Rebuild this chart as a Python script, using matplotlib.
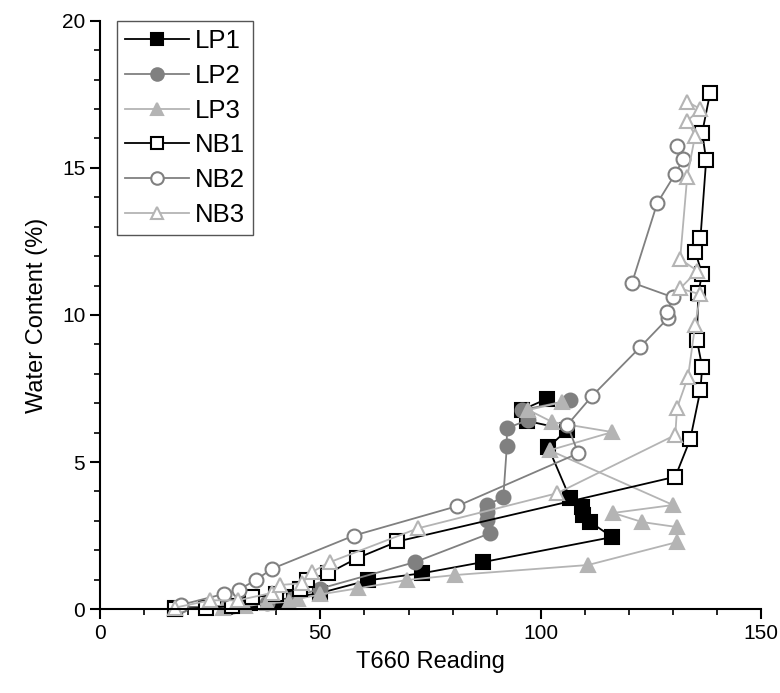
import matplotlib
matplotlib.use("Agg")
import matplotlib.pyplot as plt
from matplotlib.ticker import MultipleLocator

plt.rcParams['font.family'] = ['Liberation Sans', 'DejaVu Sans']

# ---- data (T660 reading, water content %) ----
lp1_x = [17, 29, 34, 40, 44, 50, 60.8, 73.1, 86.9, 116.2, 111.2, 109.6, 109.4, 106.6, 101.7, 106, 96.8, 95.7, 101.4]
lp1_y = [0.05, 0.1, 0.2, 0.3, 0.4, 0.55, 0.98, 1.22, 1.6, 2.45, 2.96, 3.2, 3.47, 3.78, 5.5, 6.1, 6.4, 6.77, 7.15]

lp2_x = [17, 30, 38, 44, 50, 71.5, 88.5, 87.8, 87.8, 87.8, 91.5, 92.3, 92.3, 97.1, 95.8, 106.6]
lp2_y = [0.05, 0.1, 0.2, 0.4, 0.7, 1.6, 2.58, 3.03, 3.3, 3.54, 3.81, 5.54, 6.15, 6.43, 6.77, 7.1]

lp3_x = [17, 28, 33, 38, 43, 45, 50, 58.6, 69.6, 80.6, 110.7, 130.9, 130.9, 123, 116.4, 130, 102, 116.2, 102.6, 97.2, 104.8]
lp3_y = [0.0, 0.05, 0.1, 0.2, 0.25, 0.35, 0.5, 0.71, 0.99, 1.16, 1.5, 2.28, 2.79, 2.96, 3.27, 3.54, 5.4, 6.02, 6.36, 6.77, 7.04]

nb1_x = [17, 24, 30, 34.5, 40, 45.5, 47, 51.8, 58.3, 67.5, 130.5, 133.9, 136.2, 136.6, 135.4, 135.7, 136.6, 135, 136.2, 137.5, 136.6, 138.4]
nb1_y = [0.0, 0.05, 0.1, 0.4, 0.5, 0.7, 1.0, 1.22, 1.73, 2.3, 4.5, 5.78, 7.45, 8.23, 9.15, 10.75, 11.4, 12.15, 12.6, 15.27, 16.2, 17.55]

nb2_x = [18.5, 28.2, 31.5, 35.5, 39, 57.6, 81, 108.5, 106, 111.6, 122.5, 128.9, 128.6, 130, 120.7, 126.4, 130.5, 132.3, 130.9]
nb2_y = [0.15, 0.52, 0.66, 1.0, 1.37, 2.5, 3.5, 5.3, 6.26, 7.24, 8.9, 9.9, 10.1, 10.6, 11.1, 13.8, 14.8, 15.3, 15.75]

nb3_x = [17, 25, 31.3, 39, 40.8, 45.8, 48.1, 52.2, 72.2, 103.7, 130.5, 130.9, 133.4, 135, 136.2, 131.6, 135.5, 131.6, 133.2, 135, 133.2, 136.2, 133.2]
nb3_y = [0.05, 0.3, 0.3, 0.55, 0.82, 0.88, 1.26, 1.6, 2.75, 3.94, 5.92, 6.84, 7.9, 9.66, 10.7, 10.9, 11.5, 11.9, 14.7, 16.1, 16.6, 17.0, 17.25]

labels = ["LP1", "LP2", "LP3", "NB1", "NB2", "NB3"]

fig = plt.figure(figsize=(7.8, 6.93), dpi=100)
ax = fig.add_axes([0.128, 0.121, 0.848, 0.849])

black = "#000000"
gray = "#808080"
light = "#b4b4b4"
ms = 10
lw = 1.3

series = [
    (lp1_x, lp1_y, "s", black, black, black),
    (lp2_x, lp2_y, "o", gray, gray, gray),
    (lp3_x, lp3_y, "^", light, light, light),
    (nb1_x, nb1_y, "s", black, "white", black),
    (nb2_x, nb2_y, "o", gray, "white", gray),
    (nb3_x, nb3_y, "^", light, "white", light),
]
for (x, y, m, lc, fc, ec), lab in zip(series, labels):
    ax.plot(x, y, marker=m, color=lc, markerfacecolor=fc, markeredgecolor=ec,
            markersize=ms, markeredgewidth=1.5, linewidth=lw, label=lab, clip_on=False)

ax.set_xlim(0, 150)
ax.set_ylim(0, 20)
ax.xaxis.set_major_locator(MultipleLocator(50))
ax.xaxis.set_minor_locator(MultipleLocator(10))
ax.yaxis.set_major_locator(MultipleLocator(5))
ax.yaxis.set_minor_locator(MultipleLocator(1))
ax.spines['top'].set_visible(False)
ax.spines['right'].set_visible(False)
for s in ('left', 'bottom'):
    ax.spines[s].set_linewidth(1.5)
ax.tick_params(which='major', direction='out', length=7, width=1.5, labelsize=15)
ax.tick_params(which='minor', direction='out', length=4, width=1.2)

ax.set_xlabel("T660 Reading", fontsize=17, labelpad=6)
ax.set_ylabel("Water Content (%)", fontsize=17, labelpad=10)

leg = ax.legend(loc='upper left', bbox_to_anchor=(0.026, 1.0), borderaxespad=0,
                fontsize=18.5, handlelength=2.5, handletextpad=0.2, labelspacing=0.42,
                borderpad=0.32, markerscale=0.9, fancybox=False, framealpha=1, edgecolor='#555555')
leg.get_frame().set_linewidth(1.0)

fig.savefig("out.png", dpi=100)
